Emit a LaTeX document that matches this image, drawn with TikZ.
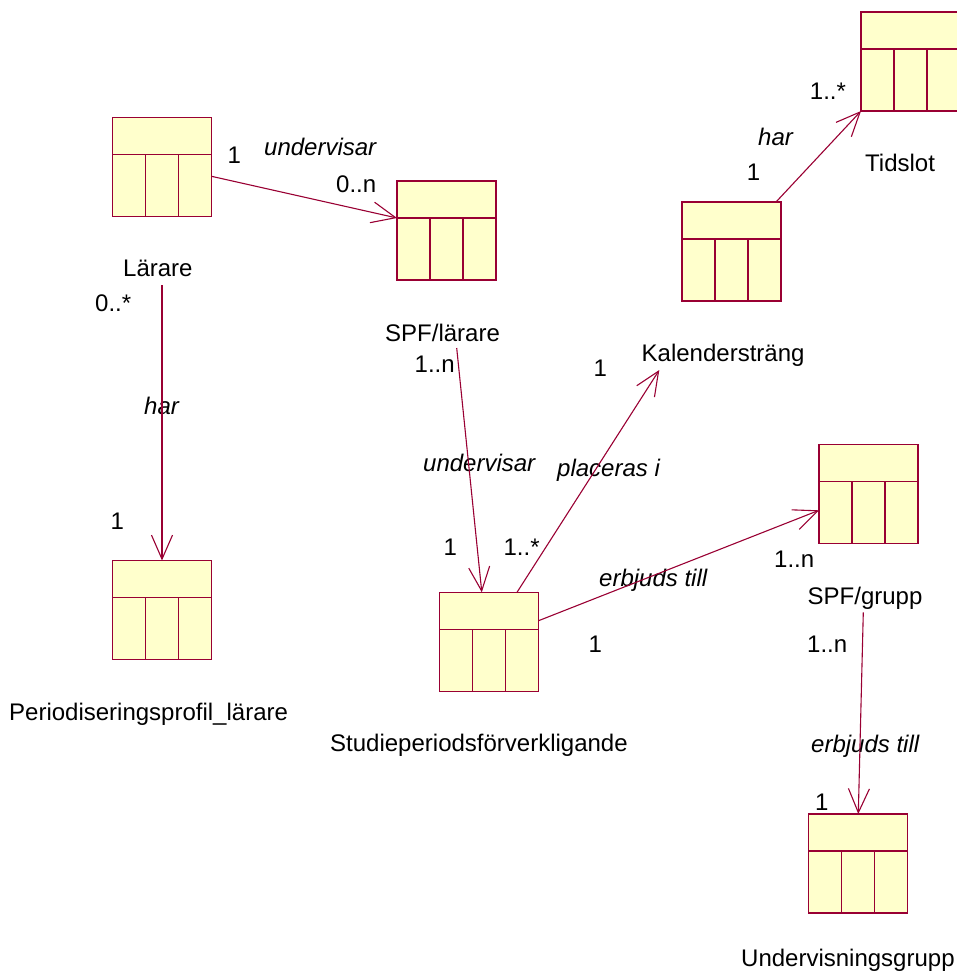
\documentclass[tikz,border=0pt]{standalone}
\usepackage{fontspec}
\setmainfont{Liberation Sans}
\usetikzlibrary{arrows.meta,calc}

\definecolor{umlline}{HTML}{990033}
\definecolor{umlfill}{HTML}{FFFFCC}

\tikzset{
  % UML class box: name compartment on top, three cells below
  classbox/.style={
    draw=umlline, fill=umlfill, line width=1.3pt,
    minimum width=99pt, minimum height=99pt, inner sep=0pt, outer sep=0pt,
    path picture={
      \draw[umlline, line width=1.3pt]
        let \p1=(path picture bounding box.north west),
            \p2=(path picture bounding box.south east) in
        (\x1,\y1-37pt) -- (\x2,\y1-37pt)
        (\x1+33pt,\y1-37pt) -- (\x1+33pt,\y2)
        (\x1+66pt,\y1-37pt) -- (\x1+66pt,\y2);
    }},
  lbl/.style={font=\fontsize{24pt}{28pt}\selectfont, inner sep=0pt, anchor=base west, text=black},
  rolelbl/.style={lbl, font=\fontsize{24pt}{28pt}\selectfont\itshape},
  assoc/.style={draw=umlline, line width=1.1pt, -{Straight Barb[length=24pt,width=21pt]}},
}

\begin{document}
\begin{tikzpicture}[x=1pt, y=-1pt]
  \useasboundingbox (0,0) rectangle (957,978);

  % classes
  \node[classbox] (lar)  at (162,167) {};
  \node[classbox] (spfl) at (446.5,230.5) {};
  \node[classbox] (tid)  at (910.5,61.5) {};
  \node[classbox] (kal)  at (731.5,251.5) {};
  \node[classbox] (per)  at (162,610) {};
  \node[classbox] (stu)  at (488.8,641.8) {};
  \node[classbox] (spfg) at (868.5,494) {};
  \node[classbox] (und)  at (858,863.5) {};

  % class names
  \node[lbl] (lartxt)  at (123,276.7) {Lärare};
  \node[lbl] (spfltxt) at (385,341) {SPF/lärare};
  \node[lbl] (tidtxt)  at (865,171.7) {Tidslot};
  \node[lbl] (kaltxt)  at (641.5,361.7) {Kalendersträng};
  \node[lbl] (pertxt)  at (9,720.7) {Periodiseringsprofil\_lärare};
  \node[lbl] (stutxt)  at (330,751.7) {Studieperiodsförverkligande};
  \node[lbl] (spfgtxt) at (807.5,604) {SPF/grupp};
  \node[lbl] (undtxt)  at (741,966.7) {Undervisningsgrupp};

  % association names
  \node[rolelbl] (r1) at (264,155) {undervisar};
  \node[rolelbl] (r2) at (144,414.3) {har};
  \node[rolelbl] (r3) at (423,471.7) {undervisar};
  \node[rolelbl] (r4) at (557,476.7) {placeras i};
  \node[rolelbl] (r5) at (758,145.7) {har};
  \node[rolelbl] (r6) at (599,586.7) {erbjuds till};
  \node[rolelbl] (r7) at (811,752.7) {erbjuds till};

  % multiplicities
  \node[lbl] (m1)  at (227.4,163.3) {1};
  \node[lbl] (m2)  at (336,192.3) {0..n};
  \node[lbl] (m3)  at (95,311) {0..*};
  \node[lbl] (m4)  at (110.4,529.5) {1};
  \node[lbl] (m5)  at (414.5,372.7) {1..n};
  \node[lbl] (m6)  at (443.4,555) {1};
  \node[lbl] (m7)  at (503.4,555) {1..*};
  \node[lbl] (m8)  at (593.4,376.7) {1};
  \node[lbl] (m9)  at (746.7,180) {1};
  \node[lbl] (m10) at (809.7,99.3) {1..*};
  \node[lbl] (m11) at (588.4,652.5) {1};
  \node[lbl] (m12) at (774,567.3) {1..n};
  \node[lbl] (m13) at (807,652.7) {1..n};
  \node[lbl] (m14) at (815,810) {1};

  % free ends of connectors leaving a class name
  \coordinate (larout)  at ($(lartxt.south -| per.north)+(0,8)$);
  \coordinate (spflout) at ($(spfltxt.base west)+(71.7,7)$);
  \coordinate (kalin)   at ($(kaltxt.base west)+(17.8,8.3)$);
  \coordinate (spfgout) at ($(spfgtxt.base west)+(55.8,8.3)$);

  % associations
  \draw[assoc] ($(lar.east)+(0,9.3)$) -- ($(spfl.north west)+(0,37)$);
  \draw[assoc] (larout) -- (per.north);
  \draw[assoc] (spflout) -- ($(stu.north)+(-7,0)$);
  \draw[assoc] ($(stu.north)+(28.2,0)$) -- (kalin);
  \draw[assoc] ($(kal.north)+(44.5,0)$) -- (tid.south west);
  \draw[assoc] ($(stu.east)+(0,-21)$) -- ($(spfg.west)+(0,16.3)$);
  \draw[assoc] (spfgout) -- ($(und.north)+(0.3,0)$);
\end{tikzpicture}
\end{document}
